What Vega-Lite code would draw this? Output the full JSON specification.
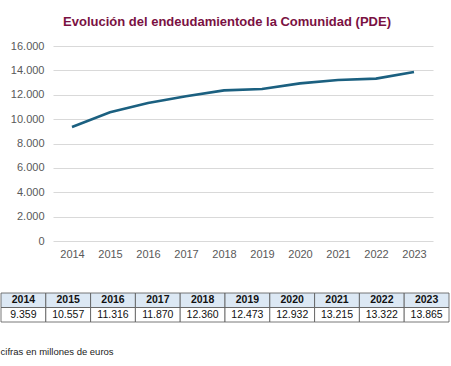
{
  "$schema": "https://vega.github.io/schema/vega-lite/v6.json",
  "padding": {"top": 16, "left": 0, "right": 0, "bottom": 0},
  "background": "white",
  "spacing": 33,
  "config": {
    "view": {"stroke": null},
    "font": "Liberation Sans",
    "locale": {"number": {"decimal": ",", "thousands": ".", "grouping": [3], "currency": ["", " €"]}}
  },
  "datasets": {
    "debt": [
      {"year": "2014", "value": 9359},
      {"year": "2015", "value": 10557},
      {"year": "2016", "value": 11316},
      {"year": "2017", "value": 11870},
      {"year": "2018", "value": 12360},
      {"year": "2019", "value": 12473},
      {"year": "2020", "value": 12932},
      {"year": "2021", "value": 13215},
      {"year": "2022", "value": 13322},
      {"year": "2023", "value": 13865}
    ]
  },
  "vconcat": [
    {
      "width": 380,
      "height": 195,
      "data": {"name": "debt"},
      "title": {
        "text": "Evolución del endeudamientode la Comunidad (PDE)",
        "color": "#7a1142",
        "fontSize": 13,
        "fontWeight": "bold",
        "font": "Liberation Sans",
        "limit": 0,
        "anchor": "middle",
        "dx": -16,
        "offset": 11
      },
      "mark": {"type": "line", "color": "#1b6080", "strokeWidth": 2.6},
      "encoding": {
        "x": {
          "field": "year",
          "type": "ordinal",
          "scale": {"type": "point", "padding": 0.5},
          "axis": {"title": null, "domain": false, "ticks": false, "labelAngle": 0, "labelFontSize": 11, "labelColor": "#595959", "labelPadding": 7}
        },
        "y": {
          "field": "value",
          "type": "quantitative",
          "scale": {"domain": [0, 16000], "nice": false},
          "axis": {"title": null, "values": [0, 2000, 4000, 6000, 8000, 10000, 12000, 14000, 16000], "format": ",d", "domain": false, "ticks": false, "labelFontSize": 11, "labelColor": "#595959", "labelPadding": 9, "gridColor": "#d9d9d9", "minExtent": 52}
        }
      }
    },
    {
      "width": 380,
      "height": 29,
      "data": {"name": "debt"},
      "title": {
        "text": "cifras en millones de euros",
        "orient": "bottom",
        "anchor": "start",
        "frame": "bounds",
        "fontSize": 9.5,
        "fontWeight": "normal",
        "color": "#222222",
        "offset": 25
      },
      "encoding": {
        "x": {
          "field": "year",
          "type": "ordinal",
          "scale": {"type": "band", "paddingInner": 0, "paddingOuter": 0, "range": [-52, 396]},
          "axis": null
        }
      },
      "layer": [
        {
          "mark": {"type": "rect", "fill": "#dce8f4", "stroke": "#555555", "strokeWidth": 0.8},
          "encoding": {"y": {"datum": "h", "type": "nominal", "scale": {"domain": ["h", "v"], "paddingInner": 0, "paddingOuter": 0}, "axis": null}}
        },
        {
          "mark": {"type": "rect", "fill": "white", "stroke": "#555555", "strokeWidth": 0.8},
          "encoding": {"y": {"datum": "v", "type": "nominal", "axis": null}}
        },
        {
          "mark": {"type": "text", "fontWeight": "bold", "fontSize": 10.5, "color": "#111111"},
          "encoding": {"y": {"datum": "h", "type": "nominal", "axis": null}, "text": {"field": "year"}}
        },
        {
          "mark": {"type": "text", "fontSize": 10.5, "color": "#111111"},
          "encoding": {"y": {"datum": "v", "type": "nominal", "axis": null}, "text": {"field": "value", "format": ",d"}}
        }
      ]
    }
  ]
}
